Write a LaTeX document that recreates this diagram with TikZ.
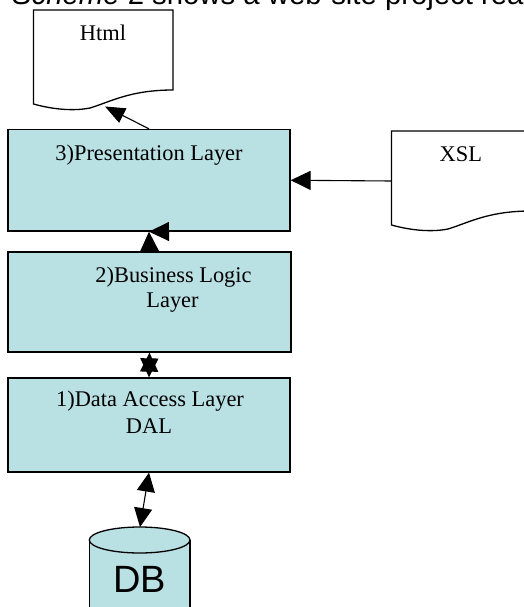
\documentclass[tikz,border=0pt]{standalone}
\usepackage{fontspec}
\setmainfont{Liberation Serif}
\newfontfamily\arialfont{Liberation Sans}
\usetikzlibrary{arrows.meta}
\definecolor{layerfill}{RGB}{185,224,227}
\tikzset{
  layer/.style={draw=black, line width=1.3pt, fill=layerfill, rectangle, inner sep=0pt},
  lbl/.style={inner sep=0pt, anchor=base, font=\fontsize{22.4}{25}\selectfont},
  docshape/.style={draw=black, line width=1.3pt, fill=white},
  conn/.style={draw=black, line width=1.1pt},
  twohead/.style={{Triangle[length=19pt,width=18pt]}-{Triangle[length=19pt,width=18pt]}}
}
\begin{document}
\begin{tikzpicture}[x=1pt,y=-1pt]
\useasboundingbox (0,0) rectangle (524,607);
\clip (0,0) rectangle (524,607);

% heading line above the scheme
\node[inner sep=0pt, anchor=base west, font=\arialfont\fontsize{29.3}{32}\selectfont] (heading) at (12,4.8)
  {\textit{Scheme} 2 shows a web-site project rea};

% Html output document
\path[docshape] (33.5,10) -- (173,10) -- (173,90)
  .. controls (130,90) and (110,102) .. (90,108)
  .. controls (75,111) and (55,110) .. (33.5,104) -- cycle;
\node[lbl] (html) at (103,40.7) {Html};
\coordinate (htmlin) at (105,106.5);

% XSL stylesheet document
\path[docshape] (391.5,131) -- (531,131) -- (531,211)
  .. controls (488,211) and (468,223) .. (448,229)
  .. controls (433,232) and (413,231) .. (391.5,225) -- cycle;
\node[lbl] (xsl) at (460.8,161.7) {XSL};
\coordinate (xslout) at (391.5,181);

% the three layers
\node[layer, minimum width=282pt, minimum height=101.5pt] (pres) at (149,180.25) {};
\node[lbl] (prestext) at (149,160) {3)Presentation Layer};

\node[layer, minimum width=283pt, minimum height=100pt] (bus) at (149.5,302) {};
\node[lbl] (bustext1) at (173.5,282) {2)Business Logic};
\node[lbl] (bustext2) at (172.5,307) {Layer};

\node[layer, minimum width=282pt, minimum height=94pt] (dal) at (149,425) {};
\node[lbl] (daltext1) at (150,406.7) {1)Data Access Layer};
\node[lbl] (daltext2) at (149,433.5) {DAL};

% database cylinder
\fill[layerfill] (89.3,540) rectangle (190,620);
\draw[line width=1.3pt] (89.3,620) -- (89.3,540);
\draw[line width=1.3pt] (190,620) -- (190,540);
\draw[line width=1.3pt, fill=layerfill] (139.65,540) ellipse [x radius=50.35pt, y radius=13pt];
\node[inner sep=0pt, anchor=base, font=\arialfont\fontsize{38}{40}\selectfont] (db) at (139.5,592.7) {DB};
\coordinate (dbtop) at (140,527);

% connectors
\draw[conn, -{Triangle[length=20pt,width=16pt]}] (pres.north) -- (htmlin);
\draw[conn, -{Triangle[length=20pt,width=19pt]}] (xslout) -- (pres.east);
\draw[conn, -{Triangle[length=20pt,width=19pt]}] (bus.north) -- (pres.south);
\coordinate (stray) at (170,231.5);
\draw[conn, -{Triangle[length=20pt,width=19pt]}] (stray) -- (pres.south);
\draw[conn, twohead] (bus.south) -- (dal.north);
\draw[conn, twohead] (dal.south) -- (dbtop);
\end{tikzpicture}
\end{document}
